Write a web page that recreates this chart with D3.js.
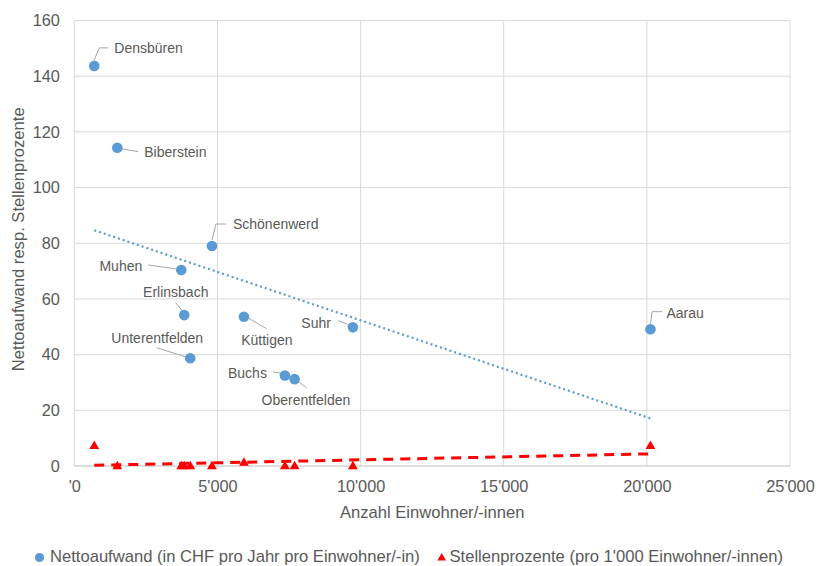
<!DOCTYPE html>
<html>
<head>
<meta charset="utf-8">
<script src="https://cdn.jsdelivr.net/npm/d3@7"></script>
<style>
  html, body { margin: 0; padding: 0; background: #fff; }
  svg { display: block; font-family: "Liberation Sans", Arial, sans-serif; }
</style>
</head>
<body>
<svg id="chart" width="816" height="566"></svg>
<script>
// Gemeinden and their values
const gemeinden = ["Densbüren", "Biberstein", "Muhen", "Erlinsbach", "Unterentfelden",
  "Schönenwerd", "Küttigen", "Buchs", "Oberentfelden", "Suhr", "Aarau"];
const einwohner = [698, 1501, 3736, 3841, 4050, 4808, 5925, 7357, 7695, 9731, 20126];
const nettoaufwand = [143.7, 114.3, 70.4, 54.2, 38.7, 79.0, 53.6, 32.5, 31.2, 49.8, 49.1];
const stellenprozente = [7.3, 0, 0, 0, 0, 0, 1.3, 0, 0, 0, 7.3];

const xTicks = [0, 5000, 10000, 15000, 20000, 25000];
const xTickLabels = ["'0", "5'000", "10'000", "15'000", "20'000", "25'000"];
const yTicks = [0, 20, 40, 60, 80, 100, 120, 140, 160];

const xTitle = "Anzahl Einwohner/-innen";
const yTitle = "Nettoaufwand resp. Stellenprozente";
const legendNetto = "Nettoaufwand (in CHF pro Jahr pro Einwohner/-in)";
const legendStellen = "Stellenprozente (pro 1'000 Einwohner/-innen)";

// Label placement relative to each point: text offset, anchor, leader path
const labelLayout = {
  "Densbüren":      { dx: 20,  dy: -18, anchor: "start",  leader: [[0, -6], [5, -18], [14, -18]] },
  "Biberstein":     { dx: 27,  dy: 4,   anchor: "start",  leader: [[4, 1], [21, 4]] },
  "Muhen":          { dx: -39, dy: -4,  anchor: "end",    leader: [[-33, -5], [-5, -1]] },
  "Erlinsbach":     { dx: -8.5, dy: -23, anchor: "middle", leader: [[-8.6, -12.3], [-1, -3.3]] },
  "Unterentfelden": { dx: -33, dy: -20, anchor: "middle", leader: [[-33.6, -10.6], [-3.6, -1]] },
  "Schönenwerd":    { dx: 21,  dy: -22, anchor: "start",  leader: [[0, -6], [4, -22], [14, -22]] },
  "Küttigen":       { dx: 23,  dy: 23,  anchor: "middle", leader: [[5, 1.6], [22.7, 12]] },
  "Buchs":          { dx: -18, dy: -2.6, anchor: "end",   leader: [[-11.7, -3.6], [-2.3, -2]] },
  "Oberentfelden":  { dx: 11.3, dy: 21, anchor: "middle", leader: [[2, 1], [12, 8.7]] },
  "Suhr":           { dx: -22, dy: -4.6, anchor: "end",   leader: [[-14.7, -6.6], [-3, -2.3]] },
  "Aarau":          { dx: 16,  dy: -16.6, anchor: "start", leader: [[0, -4.3], [1.6, -17.6], [11.6, -17.6]] }
};

const svg = d3.select("#chart");
const plot = { left: 74.3, right: 790, top: 20.5, bottom: 466 };

const x = d3.scaleLinear().domain([0, 25000]).range([plot.left, plot.right]);
const y = d3.scaleLinear().domain([0, 160]).range([plot.bottom, plot.top]);

const textColor = "#595959";
const gridColor = "#d9d9d9";
const blue = "#5b9bd5";
const red = "#ff0000";

// Gridlines
const grid = svg.append("g");
grid.selectAll("line.h").data(yTicks.filter(d => d > 0)).join("line")
  .attr("x1", plot.left).attr("x2", plot.right)
  .attr("y1", d => y(d)).attr("y2", d => y(d))
  .attr("stroke", gridColor).attr("stroke-width", 1);
grid.selectAll("line.v").data(xTicks).join("line")
  .attr("x1", d => x(d)).attr("x2", d => x(d))
  .attr("y1", plot.top).attr("y2", plot.bottom)
  .attr("stroke", gridColor).attr("stroke-width", 1);
// Bottom axis line
grid.append("line")
  .attr("x1", plot.left).attr("x2", plot.right)
  .attr("y1", y(0)).attr("y2", y(0))
  .attr("stroke", "#bfbfbf").attr("stroke-width", 1);

// Axes (labels only)
const xAxis = svg.append("g")
  .attr("transform", `translate(0,${plot.bottom})`)
  .call(d3.axisBottom(x).tickValues(xTicks)
    .tickFormat((d, i) => xTickLabels[i]).tickSize(0).tickPadding(14));
const yAxis = svg.append("g")
  .attr("transform", `translate(${plot.left},0)`)
  .call(d3.axisLeft(y).tickValues(yTicks).tickSize(0).tickPadding(14.5));
[xAxis, yAxis].forEach(a => {
  a.select(".domain").remove();
  a.selectAll("text").attr("fill", textColor)
    .style("font-size", "16.3px")
    .style("font-family", "'Liberation Sans', Arial, sans-serif");
});

// Axis titles
svg.append("text")
  .attr("x", (plot.left + plot.right) / 2).attr("y", 517.5)
  .attr("text-anchor", "middle").attr("fill", textColor)
  .style("font-size", "16.6px").text(xTitle);
svg.append("text")
  .attr("transform", `translate(24,${(plot.top + plot.bottom) / 2 - 4}) rotate(-90)`)
  .attr("text-anchor", "middle").attr("fill", textColor)
  .style("font-size", "16.6px").text(yTitle);

// Linear trendlines (least squares over the plotted points)
function regression(xs, ys) {
  const mx = d3.mean(xs), my = d3.mean(ys);
  let sxy = 0, sxx = 0;
  xs.forEach((v, i) => { sxy += (v - mx) * (ys[i] - my); sxx += (v - mx) * (v - mx); });
  const slope = sxy / sxx;
  const x0 = d3.min(xs), x1 = d3.max(xs);
  return [[x0, my + slope * (x0 - mx)], [x1, my + slope * (x1 - mx)]];
}
const line = d3.line().x(d => x(d[0])).y(d => y(d[1]));

svg.append("path")
  .attr("d", line(regression(einwohner, nettoaufwand)))
  .attr("fill", "none").attr("stroke", blue)
  .attr("stroke-width", 2.2).attr("stroke-dasharray", "2 3");

// Leader lines and data labels
const pts = gemeinden.map((g, i) => ({ name: g, cx: x(einwohner[i]), cy: y(nettoaufwand[i]) }));
const labels = svg.append("g");
pts.forEach(p => {
  const l = labelLayout[p.name];
  labels.append("path")
    .attr("d", d3.line()(l.leader.map(q => [p.cx + q[0], p.cy + q[1]])))
    .attr("fill", "none").attr("stroke", "#a6a6a6").attr("stroke-width", 1);
  labels.append("text")
    .attr("x", p.cx + l.dx).attr("y", p.cy + l.dy)
    .attr("dy", "0.35em").attr("text-anchor", l.anchor)
    .attr("fill", textColor).style("font-size", "14px")
    .text(p.name);
});

// Nettoaufwand points
svg.append("g").selectAll("circle").data(pts).join("circle")
  .attr("cx", d => d.cx).attr("cy", d => d.cy).attr("r", 5.3)
  .attr("fill", blue);

// Stellenprozente trendline and points
svg.append("path")
  .attr("d", line(regression(einwohner, stellenprozente)))
  .attr("fill", "none").attr("stroke", red)
  .attr("stroke-width", 3).attr("stroke-dasharray", "10 7");

const tri = d3.symbol().type(d3.symbolTriangle).size(42);
svg.append("g").selectAll("path").data(einwohner).join("path")
  .attr("transform", (d, i) => `translate(${x(d)},${y(stellenprozente[i]) + 0.5})`)
  .attr("d", tri).attr("fill", red);

// Legend
const legend = svg.append("g");
legend.append("circle").attr("cx", 39.5).attr("cy", 557.5).attr("r", 4.6).attr("fill", blue);
legend.append("text").attr("x", 50).attr("y", 562.3).attr("fill", textColor)
  .style("font-size", "16.6px").text(legendNetto);
legend.append("path").attr("transform", "translate(441.7,558)")
  .attr("d", d3.symbol().type(d3.symbolTriangle).size(32)).attr("fill", red);
legend.append("text").attr("x", 449.5).attr("y", 562.3).attr("fill", textColor)
  .style("font-size", "16.6px").text(legendStellen);
</script>
</body>
</html>
